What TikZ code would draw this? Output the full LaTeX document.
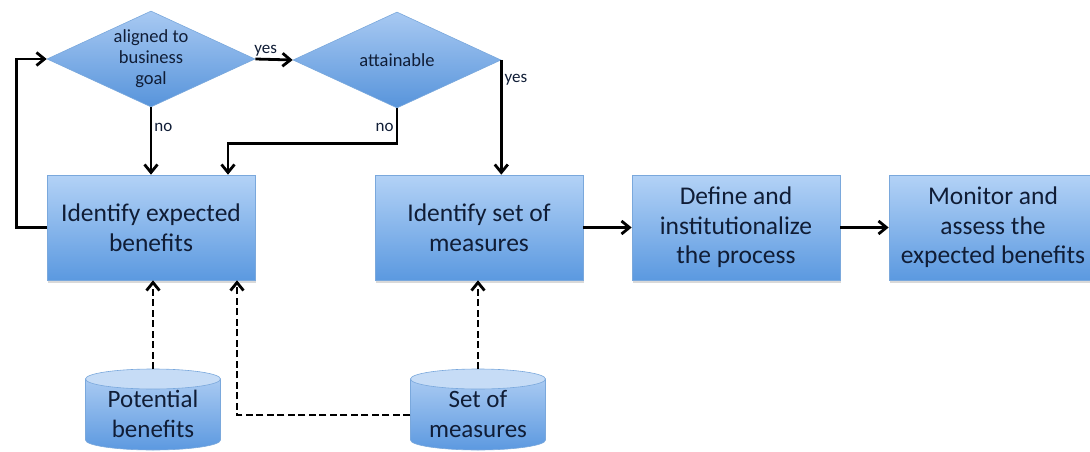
\documentclass[tikz,border=0pt]{standalone}
\usepackage{fontspec}
\setmainfont{Carlito}
\usetikzlibrary{shapes.geometric,arrows.meta,shadows,calc}

\definecolor{boxtop}{HTML}{B3D2F6}
\definecolor{boxbot}{HTML}{5B99E0}
\definecolor{boxline}{HTML}{7AA8DC}
\definecolor{diatop}{HTML}{A8C9F2}
\definecolor{diabot}{HTML}{5794DB}
\definecolor{cyltop}{HTML}{A9CAF2}
\definecolor{cylbot}{HTML}{5C99E0}
\definecolor{cylcap}{HTML}{C6DCF6}
\definecolor{inktext}{HTML}{101D36}

% drum-shaped store: centre x, centre y (body 135 wide, 81 tall)
\newcommand\drumshape[2]{%
  \path[top color=cyltop, bottom color=cylbot, draw=boxline, line width=0.6pt]
    (#1-67.5,#2-30.5) -- (#1-67.5,#2+30.5)
    arc[start angle=180, end angle=360, x radius=67.5pt, y radius=10pt]
    -- (#1+67.5,#2-30.5) -- cycle;
  \path[fill=cylcap, draw=boxline, line width=0.6pt]
    (#1,#2-30.5) ellipse [x radius=67.5pt, y radius=10pt];
}

\begin{document}
\begin{tikzpicture}[x=1pt,y=-1pt,
  every node/.style={text=inktext},
  procbox/.style={rectangle, minimum width=208, minimum height=105,
    top color=boxtop, bottom color=boxbot, draw=boxline, line width=0.6pt,
    drop shadow={shadow xshift=0.5pt, shadow yshift=-3pt, opacity=0.3},
    align=center, font=\fontsize{25.5}{29.5}\selectfont},
  decision/.style={diamond, minimum width=208, minimum height=96, inner sep=0pt,
    top color=diatop, bottom color=diabot, draw=boxline, line width=0.6pt},
  dtext/.style={align=center, font=\fontsize{18.5}{21}\selectfont},
  storetext/.style={rectangle, minimum width=135, minimum height=81, inner sep=0pt,
    align=center, font=\fontsize{25}{29.5}\selectfont},
  lbl/.style={font=\fontsize{17}{19}\selectfont, inner sep=2pt},
  flow/.style={line width=2.8pt, -{Straight Barb[length=8pt, width=13pt]}},
  feed/.style={flow, dash pattern=on 7pt off 3.5pt}]

\useasboundingbox (0,0) rectangle (1090,452);

% decisions
\node[decision] (d1) at (151,59) {};
\node[dtext] (d1t) at (d1.center) {aligned to\\business\\goal};
\node[decision] (d2) at (397,60) {};
\node[dtext] (d2t) at (d2.center) {attainable};

% process steps
\node[procbox] (b1) at (151,227.5) {Identify expected\\benefits};
\node[procbox] (b2) at (479,227.5) {Identify set of\\measures};
\node[procbox] (b3) at (736,227.5) {Define and\\institutionalize\\the process};
\node[procbox] (b4) at (993,227.5) {Monitor and\\assess the\\expected benefits};

% data stores
\drumshape{153}{409.5}
\node[storetext] (c1) at (153,414) {Potential\\benefits};
\drumshape{478}{409.5}
\node[storetext] (c2) at (478,414) {Set of\\measures};

% control flow
\draw[flow] (b1.west) -- ++(-30,0) |- (d1.west);
\draw[flow] (d1.east) -- node[lbl, above, pos=0.28] {yes} (d2.west);
\draw[flow] (d1.south) -- node[lbl, right, pos=0.3] {no} (d1.south |- b1.north);
\draw[flow] (d2.south) -- node[lbl, left, pos=0.55] {no} ++(0,35)
  -| ([xshift=77pt]b1.north);
\draw[flow] (d2.east) -- node[lbl, right, pos=0.17] {yes} (d2.east |- b2.north);
\draw[flow] (b2) -- (b3);
\draw[flow] (b3) -- (b4);

% information inputs
\draw[feed] (c1.north |- 0,369) -- (c1.north |- b1.south);
\draw[feed] ([yshift=-1pt]c2.west) -| ([xshift=86pt]b1.south);
\draw[feed] (c2.north |- 0,369) -- (c2.north |- b2.south);
\end{tikzpicture}
\end{document}
